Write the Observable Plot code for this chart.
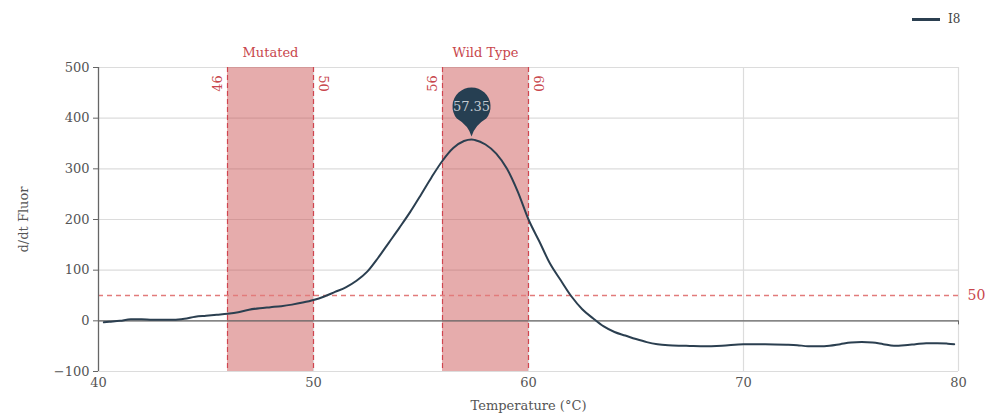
<!DOCTYPE html>
<html><head><meta charset="utf-8">
<script src="https://cdn.jsdelivr.net/npm/d3@7"></script>
<script src="https://cdn.jsdelivr.net/npm/@observablehq/plot@0.6"></script>
<style>
body{margin:0;background:#fff;font-family:"DejaVu Serif",serif}
#wrap{position:relative;width:985px;height:418px}
#legend{position:absolute;left:912px;top:10px;font-size:12px;color:#444;display:flex;align-items:center;height:18px}
#legend .sw{display:inline-block;width:28px;height:3px;background:#2b3f50;margin-right:8px}
</style></head><body>
<div id="wrap"><div id="legend"><span class="sw"></span><span>I8</span></div></div>
<script>
const temps = [40.25,40.5,41,41.5,42,42.5,43,43.5,44,44.5,45,45.5,46,46.5,47,47.5,48,48.5,49,49.5,50,50.5,51,51.5,52,52.5,53,53.5,54,54.5,55,55.5,56,56.5,57,57.35,57.5,58,58.5,59,59.5,60,60.5,61,61.5,62,62.5,63,63.5,64,64.5,65,65.5,66,66.5,67,67.5,68,69,70,71,72,72.5,73,73.5,74,74.5,75,75.5,76,76.5,77,77.5,78,78.5,79,79.5,79.8];
const fluor = [-3,-2,0,3,3,2,2,2,4,8,10,12,14,17,22,25,27,29,32,36,41,48,57,66,79,97,124,154,184,215,249,284,316,341,355,358,357,348,330,300,255,200,157,113,80,48,23,5,-11,-22,-29,-36,-42,-46,-48,-49,-49.5,-50,-49,-46,-46,-47,-48,-50,-50,-49,-46,-43,-42,-43,-46,-49,-48,-46,-44,-44,-45,-46];
const bandNames = ["Mutated", "Wild Type"];
const bandStart = [46, 56];
const bandEnd = [50, 60];
const threshold = 50;
const peakTemp = 57.35;
const peakValue = 358;
const peakLabel = "57.35";
const xTicks = [40, 50, 60, 70, 80];
const yTicks = [-100, 0, 100, 200, 300, 400, 500];
const seriesName = "I8";

const data = temps.map((t, i) => ({t, v: fluor[i]}));
const bands = bandNames.map((n, i) => ({name: n, start: bandStart[i], end: bandEnd[i]}));
const leftEdges = bandStart.map(v => ({v, label: String(v)}));
const rightEdges = bandEnd.map(v => ({v, label: String(v)}));
const peak = [{t: peakTemp, v: peakValue}];

const rad = Math.PI / 180;
const pin = {
  draw(ctx) {
    ctx.moveTo(0, -3);
    ctx.quadraticCurveTo(-3, -14, -14.7, -21);
    ctx.arc(0, -33, 19, 140.8 * rad, 399.2 * rad, false);
    ctx.quadraticCurveTo(3, -14, 0, -3);
    ctx.closePath();
  }
};

const red = "#c8464c";
const chart = Plot.plot({
  width: 985, height: 418,
  marginLeft: 98, marginRight: 27, marginTop: 67, marginBottom: 47,
  style: {fontFamily: "DejaVu Serif, serif", fontSize: "13px", color: "#555"},
  x: {domain: [40, 80]},
  y: {domain: [-100, 500]},
  marks: [
    Plot.ruleY(yTicks, {stroke: "#dcdcdc", strokeWidth: 1.2}),
    Plot.ruleX([50, 60, 70, 80], {stroke: "#dcdcdc", strokeWidth: 1.2}),
    Plot.rect(bands, {x1: "start", x2: "end", fill: "#c84848", fillOpacity: 0.45}),
    Plot.ruleX(bandStart.concat(bandEnd), {stroke: "#d0454f", strokeDasharray: "5,3", strokeWidth: 1.2}),
    Plot.ruleY([threshold], {stroke: "#e27b7b", strokeDasharray: "5,4", strokeWidth: 1.3}),
    Plot.ruleY([0], {stroke: "#666", strokeWidth: 1.3}),
    Plot.ruleX([80], {y1: 0, y2: -8, stroke: "#666"}),
    Plot.ruleX([40], {stroke: "#666", strokeWidth: 1.3}),
    Plot.axisY({ticks: yTicks, tickSize: 5, tickPadding: 4, stroke: "#666", label: "d/dt Fluor", labelAnchor: "center", labelOffset: 80, labelArrow: "none", fill: "#555"}),
    Plot.axisX({ticks: xTicks, tickSize: 0, tickPadding: 6, label: "Temperature (°C)", labelAnchor: "center", labelOffset: 38, labelArrow: "none", fill: "#555"}),
    Plot.line(data, {x: "t", y: "v", stroke: "#2b3f50", strokeWidth: 2, curve: "monotone-x"}),
    Plot.text(bands, {x: d => (d.start + d.end) / 2, frameAnchor: "top", dy: -20, text: "name", fill: red, fontSize: 13}),
    Plot.text(leftEdges, {x: "v", frameAnchor: "top", rotate: -90, text: "label", dx: -15, dy: 16, fill: red, fontSize: 13}),
    Plot.text(rightEdges, {x: "v", frameAnchor: "top", rotate: 90, text: "label", dx: 15, dy: 16, fill: red, fontSize: 13}),
    Plot.text([threshold], {y: d => d, frameAnchor: "right", dx: 9, textAnchor: "start", text: d => String(d), fill: red, fontSize: 14}),
    Plot.dot(peak, {x: "t", y: "v", symbol: pin, fill: "#263f52", r: 10}),
    Plot.text(peak, {x: "t", y: "v", dy: -33, text: () => peakLabel, fill: "#c5cbd1", fontSize: 13})
  ]
});
document.getElementById("wrap").prepend(chart);
</script>
</body></html>
